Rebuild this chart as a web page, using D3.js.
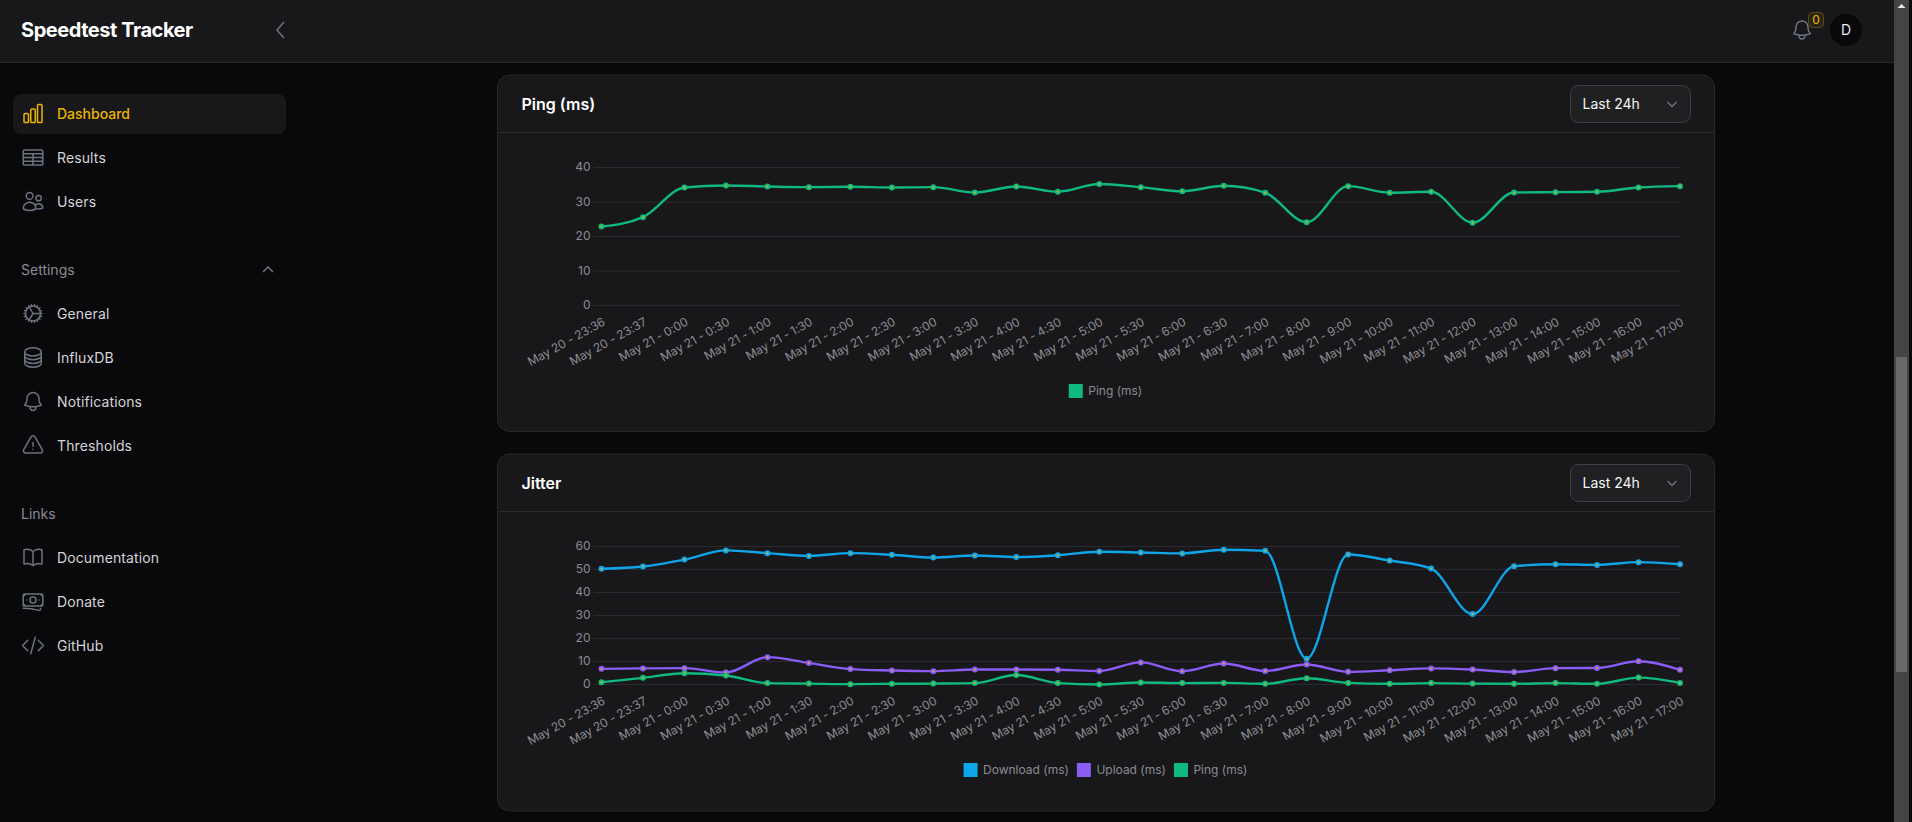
<!DOCTYPE html>
<meta charset="utf-8">
<style>
    html, body { margin: 0; padding: 0; background: #09090b; overflow: hidden; }
    svg { display: block; font-family: Inter, sans-serif; }
    .tick text { font: 12px Inter, sans-serif; fill: #8b8b91; }
    .y-axis .tick line { stroke: #2b2b2f; }
    .y-axis .domain, .x-axis .domain, .x-axis .tick line { display: none; }
    .x-axis .tick text { letter-spacing: -0.1px; }
    .icon { fill: none; stroke: #6b7280; stroke-width: 1.5; stroke-linecap: round; stroke-linejoin: round; }
    .legend text { font: 12px Inter, sans-serif; fill: #8b8b91; }
</style>
<svg width="1912" height="822"></svg>
<script src="https://d3js.org/d3.v7.min.js"></script>
<script>

    var labels = ["May 20 - 23:36", "May 20 - 23:37", "May 21 - 0:00", "May 21 - 0:30", "May 21 - 1:00", "May 21 - 1:30",
        "May 21 - 2:00", "May 21 - 2:30", "May 21 - 3:00", "May 21 - 3:30", "May 21 - 4:00", "May 21 - 4:30",
        "May 21 - 5:00", "May 21 - 5:30", "May 21 - 6:00", "May 21 - 6:30", "May 21 - 7:00", "May 21 - 8:00",
        "May 21 - 9:00", "May 21 - 10:00", "May 21 - 11:00", "May 21 - 12:00", "May 21 - 13:00", "May 21 - 14:00",
        "May 21 - 15:00", "May 21 - 16:00", "May 21 - 17:00"];

    var pingMs = [22.9, 25.6, 34.2, 34.8, 34.5, 34.3, 34.4, 34.2, 34.3, 32.75, 34.5, 33.0, 35.2, 34.3, 33.1, 34.7, 32.7,
        24.15, 34.6, 32.7, 32.95, 24.0, 32.75, 32.85, 32.95, 34.2, 34.6];

    var jitterDownload = [50.3, 51.3, 54.3, 58.3, 57.1, 55.9, 57.1, 56.4, 55.2, 56.1, 55.4, 56.2, 57.7, 57.4, 57.0, 58.6, 58.1,
        11.2, 56.5, 53.9, 50.4, 30.6, 51.4, 52.3, 52.0, 53.2, 52.3];
    var jitterUpload = [6.8, 7.0, 7.1, 5.2, 11.9, 9.4, 6.7, 6.1, 5.8, 6.5, 6.5, 6.4, 5.9, 9.6, 5.8, 9.1, 5.9,
        8.7, 5.5, 6.2, 7.0, 6.5, 5.4, 7.1, 7.2, 10.1, 6.4];
    var jitterPing = [1.0, 2.9, 4.9, 3.9, 0.6, 0.4, 0.15, 0.3, 0.4, 0.6, 4.1, 0.6, 0.0, 0.9, 0.6, 0.7, 0.3,
        2.75, 0.7, 0.3, 0.6, 0.4, 0.3, 0.6, 0.3, 3.0, 0.7];

    var green = "#10b981", purple = "#8b5cf6", blue = "#0ea5e9", amber = "#eab308";

    var icons = {
        chart: "M3 13.125C3 12.504 3.504 12 4.125 12h2.25c.621 0 1.125.504 1.125 1.125v6.75C7.5 20.496 6.996 21 6.375 21h-2.25A1.125 1.125 0 013 19.875v-6.75zM9.75 8.625c0-.621.504-1.125 1.125-1.125h2.25c.621 0 1.125.504 1.125 1.125v11.25c0 .621-.504 1.125-1.125 1.125h-2.25a1.125 1.125 0 01-1.125-1.125V8.625zM16.5 4.125c0-.621.504-1.125 1.125-1.125h2.25C20.496 3 21 3.504 21 4.125v15.75c0 .621-.504 1.125-1.125 1.125h-2.25a1.125 1.125 0 01-1.125-1.125V4.125z",
        table: "M3.375 19.5h17.25m-17.25 0a1.125 1.125 0 01-1.125-1.125M3.375 19.5h7.5c.621 0 1.125-.504 1.125-1.125m-9.75 0V5.625m0 12.75v-1.5c0-.621.504-1.125 1.125-1.125m18.375 2.625V5.625m0 12.75c0 .621-.504 1.125-1.125 1.125m1.125-1.125v-1.5c0-.621-.504-1.125-1.125-1.125m0 3.75h-7.5A1.125 1.125 0 0112 18.375m9.75-12.75c0-.621-.504-1.125-1.125-1.125H3.375c-.621 0-1.125.504-1.125 1.125m19.5 0v1.5c0 .621-.504 1.125-1.125 1.125M2.25 5.625v1.5c0 .621.504 1.125 1.125 1.125m0 0h17.25m-17.25 0h7.5c.621 0 1.125.504 1.125 1.125M3.375 8.25c-.621 0-1.125.504-1.125 1.125v1.5c0 .621.504 1.125 1.125 1.125m17.25-3.75h-7.5c-.621 0-1.125.504-1.125 1.125m8.625-1.125c.621 0 1.125.504 1.125 1.125v1.5c0 .621-.504 1.125-1.125 1.125m-17.25 0h7.5m-7.5 0c-.621 0-1.125.504-1.125 1.125v1.5c0 .621.504 1.125 1.125 1.125M12 10.875v-1.5m0 1.5c0 .621-.504 1.125-1.125 1.125M12 10.875c0 .621.504 1.125 1.125 1.125m-2.25 0c.621 0 1.125.504 1.125 1.125M13.125 12h7.5m-7.5 0c-.621 0-1.125.504-1.125 1.125M20.625 12c.621 0 1.125.504 1.125 1.125v1.5c0 .621-.504 1.125-1.125 1.125m-17.25 0h7.5M12 14.625v-1.5m0 1.5c0 .621-.504 1.125-1.125 1.125M12 14.625c0 .621.504 1.125 1.125 1.125m-2.25 0c.621 0 1.125.504 1.125 1.125m0 1.5v-1.5m0 0c0-.621.504-1.125 1.125-1.125m0 0h7.5",
        users: "M15 19.128a9.38 9.38 0 002.625.372 9.337 9.337 0 004.121-.952 4.125 4.125 0 00-7.533-2.493M15 19.128v-.003c0-1.113-.285-2.16-.786-3.07M15 19.128v.106A12.318 12.318 0 018.624 21c-2.331 0-4.512-.645-6.374-1.766l-.001-.109a6.375 6.375 0 0111.964-3.07M12 6.375a3.375 3.375 0 11-6.75 0 3.375 3.375 0 016.75 0zm8.25 2.25a2.625 2.625 0 11-5.25 0 2.625 2.625 0 015.25 0z",
        cog: "M4.5 12a7.5 7.5 0 0015 0m-15 0a7.5 7.5 0 1115 0m-15 0H3m16.5 0H21m-1.5 0H12m-8.457 3.077l1.41-.513m14.095-5.13l1.41-.513M5.106 17.785l1.15-.964m11.49-9.642l1.149-.964M7.501 19.795l.75-1.3m7.5-12.99l.75-1.3m-6.063 16.658l.26-1.477m2.605-14.772l.26-1.477m0 17.726l-.26-1.477M10.698 4.614l-.26-1.477M16.5 19.794l-.75-1.299M7.5 4.205L12 12m6.894 5.785l-1.149-.964M6.256 7.178l-1.15-.964m15.352 8.864l-1.41-.513M4.954 9.435l-1.41-.514M12.002 12l-3.75 6.495",
        stack: "M20.25 6.375c0 2.278-3.694 4.125-8.25 4.125S3.75 8.653 3.75 6.375m16.5 0c0-2.278-3.694-4.125-8.25-4.125S3.75 4.097 3.75 6.375m16.5 0v11.25c0 2.278-3.694 4.125-8.25 4.125s-8.25-1.847-8.25-4.125V6.375m16.5 0v3.75m-16.5-3.75v3.75m16.5 0v3.75C20.25 16.153 16.556 18 12 18s-8.25-1.847-8.25-4.125v-3.75m16.5 0c0 2.278-3.694 4.125-8.25 4.125s-8.25-1.847-8.25-4.125",
        bell: "M14.857 17.082a23.848 23.848 0 005.454-1.31A8.967 8.967 0 0118 9.75v-.7V9A6 6 0 006 9v.75a8.967 8.967 0 01-2.312 6.022c1.733.64 3.56 1.085 5.455 1.31m5.714 0a24.255 24.255 0 01-5.714 0m5.714 0a3 3 0 11-5.714 0",
        warn: "M12 9v3.75m-9.303 3.376c-.866 1.5.217 3.374 1.948 3.374h14.71c1.73 0 2.813-1.874 1.948-3.374L13.949 3.378c-.866-1.5-3.032-1.5-3.898 0L2.697 16.126zM12 15.75h.007v.008H12v-.008z",
        book: "M12 6.042A8.967 8.967 0 006 3.75c-1.052 0-2.062.18-3 .512v14.25A8.987 8.987 0 016 18c2.305 0 4.408.867 6 2.292m0-14.25a8.966 8.966 0 016-2.292c1.052 0 2.062.18 3 .512v14.25A8.987 8.987 0 0018 18a8.967 8.967 0 00-6 2.292m0-14.25v14.25",
        notes: "M2.25 18.75a60.07 60.07 0 0115.797 2.101c.727.198 1.453-.342 1.453-1.096V18.75M3.75 4.5v.75A.75.75 0 013 6h-.75m0 0v-.375c0-.621.504-1.125 1.125-1.125H20.25M2.25 6v9m18-10.5v.75c0 .414.336.75.75.75h.75m-1.5-1.5h.375c.621 0 1.125.504 1.125 1.125v9.75c0 .621-.504 1.125-1.125 1.125h-.375m1.5-1.5H21a.75.75 0 00-.75.75v.75m0 0H3.75m0 0h-.375a1.125 1.125 0 01-1.125-1.125V15m1.5 1.5v-.75A.75.75 0 003 15h-.75M15 10.5a3 3 0 11-6 0 3 3 0 016 0zm3 0h.008v.008H18V10.5zm-12 0h.008v.008H6V10.5z",
        code: "M17.25 6.75L22.5 12l-5.25 5.25m-10.5 0L1.5 12l5.25-5.25m7.5-3l-4.5 16.5"
    };

    var svg = d3.select("svg");

    // page chrome
    svg.append("rect").attr("width", 1912).attr("height", 822).attr("fill", "#09090b");

    card(75, 431.5, 132.5, "Ping (ms)");
    card(454, 811, 511.5, "Jitter");

    drawChart(167.5, 305.5, [0, 40], [0, 10, 20, 30, 40], [
        { name: "Ping (ms)", color: green, values: pingMs }
    ], 391);

    drawChart(546.5, 684.5, [0, 60], [0, 10, 20, 30, 40, 50, 60], [
        { name: "Download (ms)", color: blue, values: jitterDownload },
        { name: "Upload (ms)", color: purple, values: jitterUpload },
        { name: "Ping (ms)", color: green, values: jitterPing }
    ], 770);

    // top bar
    svg.append("rect").attr("width", 1894).attr("height", 62).attr("fill", "#18181b");
    svg.append("rect").attr("y", 62).attr("width", 1894).attr("height", 1).attr("fill", "#2a2a2d");
    svg.append("text").attr("x", 21).attr("y", 37).attr("font-size", 20).attr("font-weight", 700)
        .attr("letter-spacing", "-0.45px").attr("fill", "#fff").text("Speedtest Tracker");
    svg.append("path").attr("d", "M284 22l-7 8 7 8").attr("fill", "none").attr("stroke", "#6b7280").attr("stroke-width", 1.5);

    icon("bell", 1790, 18);
    svg.append("rect").attr("x", 1808.5).attr("y", 12.5).attr("width", 15).attr("height", 15).attr("rx", 4)
        .attr("fill", "#2a2415").attr("stroke", "#5c4a16");
    svg.append("text").attr("x", 1816).attr("y", 24).attr("text-anchor", "middle").attr("font-size", 12)
        .attr("fill", amber).text("0");
    svg.append("circle").attr("cx", 1846).attr("cy", 30).attr("r", 16).attr("fill", "#09090b");
    svg.append("text").attr("x", 1846).attr("y", 35).attr("text-anchor", "middle").attr("font-size", 14)
        .attr("fill", "#e5e7eb").text("D");

    // sidebar
    svg.append("rect").attr("x", 13).attr("y", 94).attr("width", 273).attr("height", 40).attr("rx", 8).attr("fill", "#18181b");

    var navItems = [
        { name: "Dashboard", icon: "chart", y: 113.5, active: true },
        { name: "Results", icon: "table", y: 157.5 },
        { name: "Users", icon: "users", y: 201.5 },
        { name: "General", icon: "cog", y: 313.5 },
        { name: "InfluxDB", icon: "stack", y: 357.5 },
        { name: "Notifications", icon: "bell", y: 401.5 },
        { name: "Thresholds", icon: "warn", y: 445.5 },
        { name: "Documentation", icon: "book", y: 557.5 },
        { name: "Donate", icon: "notes", y: 601.5 },
        { name: "GitHub", icon: "code", y: 645.5 }
    ];

    navItems.forEach(function (d) {
        var ic = icon(d.icon, 21, d.y - 12);
        if (d.active) ic.style("stroke", amber);
        svg.append("text").attr("x", 57).attr("y", d.y + 5).attr("font-size", 14).attr("font-weight", d.active ? 500 : 400)
            .attr("letter-spacing", d.active ? null : "0.12px")
            .attr("fill", d.active ? amber : "#d4d4d8").text(d.name);
    });

    svg.append("text").attr("x", 21).attr("y", 275).attr("font-size", 14).attr("fill", "#8b8b91").text("Settings");
    svg.append("text").attr("x", 21).attr("y", 519).attr("font-size", 14).attr("fill", "#8b8b91").text("Links");
    svg.append("path").attr("d", "M263 272l5-5 5 5").attr("fill", "none").attr("stroke", "#6b7280").attr("stroke-width", 1.5);

    // scrollbar
    svg.append("rect").attr("x", 1894).attr("width", 15).attr("height", 822).attr("fill", "#444");
    svg.append("rect").attr("x", 1896).attr("y", 357).attr("width", 11).attr("height", 315).attr("fill", "#686868");
    svg.append("path").attr("d", "M1897.5 8l4-4 4 4z").attr("fill", "#e8e8e8");

    function icon(name, x, y) {
        return svg.append("path").attr("class", "icon").attr("d", icons[name])
            .attr("transform", "translate(" + x + "," + y + ")");
    }

    function card(top, bottom, headerY, title) {
        svg.append("rect").attr("x", 497.5).attr("y", top).attr("width", 1217).attr("height", bottom - top).attr("rx", 12)
            .attr("fill", "#18181b").attr("stroke", "#27272a");
        svg.append("rect").attr("x", 498).attr("y", headerY - 0.5).attr("width", 1216).attr("height", 1).attr("fill", "#2a2a2d");
        svg.append("text").attr("x", 521.5).attr("y", top + 34.5).attr("font-size", 16).attr("font-weight", 600)
            .attr("fill", "#fff").text(title);
        svg.append("rect").attr("x", 1570.5).attr("y", top + 10.5).attr("width", 120).attr("height", 37).attr("rx", 8)
            .attr("fill", "#202023").attr("stroke", "#3f3f44");
        svg.append("text").attr("x", 1582.5).attr("y", top + 34).attr("font-size", 14)
            .attr("fill", "#f4f4f5").text("Last 24h");
        svg.append("path").attr("d", "M1667.5 " + (top + 27) + "l4.5 4.5 4.5-4.5").attr("fill", "none")
            .attr("stroke", "#6b7280").attr("stroke-width", 1.5);
    }

    function drawChart(top, zero, domain, ticks, series, legendY) {
        var x = d3.scalePoint().domain(labels).range([601.5, 1680]);
        var y = d3.scaleLinear().domain(domain).range([zero, top]);

        var g = svg.append("g");

        g.append("g").attr("class", "y-axis").attr("transform", "translate(601.5,0)")
            .call(d3.axisLeft(y).tickValues(ticks).tickSize(8).tickPadding(3).offset(0))
            .call(function (a) {
                a.selectAll(".tick").append("line").attr("x2", 1680 - 601.5);
            });

        g.append("g").attr("class", "x-axis").attr("transform", "translate(0," + zero + ")")
            .call(d3.axisBottom(x).tickSize(0).offset(0))
            .selectAll("text")
            .attr("text-anchor", "end")
            .attr("dy", null)
            .attr("y", 0)
            .attr("transform", "translate(4.5,19) rotate(-29)");

        var line = d3.line()
            .x(function (d, i) { return x(labels[i]); })
            .y(function (d) { return y(d); })
            .curve(d3.curveMonotoneX);

        var lines = g.selectAll(".series").data(series).enter().append("g").attr("class", "series");

        lines.append("path")
            .attr("d", function (s) { return line(s.values); })
            .attr("fill", "none")
            .attr("stroke", function (s) { return s.color; })
            .attr("stroke-width", 2.4);

        lines.each(function (s) {
            d3.select(this).selectAll("circle").data(s.values).enter().append("circle")
                .attr("cx", function (d, i) { return x(labels[i]); })
                .attr("cy", function (d) { return y(d); })
                .attr("r", 2)
                .attr("fill", amber)
                .attr("stroke", s.color)
                .attr("stroke-width", 2);
        });

        // legend, centred under the plot
        var legend = g.append("g").attr("class", "legend");
        var px = 0;
        series.forEach(function (s) {
            var item = legend.append("g").attr("transform", "translate(" + px + ",0)");
            item.append("rect").attr("y", legendY - 7).attr("width", 14).attr("height", 14).attr("fill", s.color);
            var t = item.append("text").attr("x", 19.5).attr("y", legendY + 4).text(s.name);
            px += 19.5 + t.node().getComputedTextLength() + 8;
        });
        legend.attr("transform", "translate(" + (1105.5 - (px - 8) / 2) + ",0)");
    }

</script>
